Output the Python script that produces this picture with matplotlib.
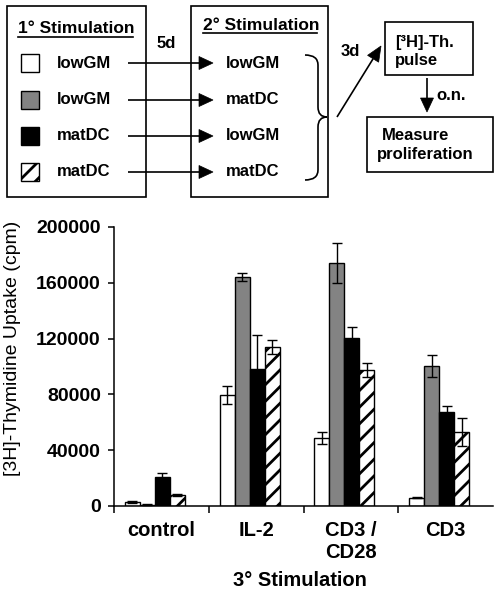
import matplotlib
matplotlib.use("Agg")
import matplotlib.pyplot as plt
import numpy as np
from matplotlib.patches import Rectangle, Polygon, PathPatch
from matplotlib.path import Path

plt.rcParams['font.family'] = ['Liberation Sans', 'DejaVu Sans']
plt.rcParams['hatch.linewidth'] = 2.0

# ---------------- data ----------------
categories = ["control", "IL-2", "CD3 /\nCD28", "CD3"]
series_names = ["lowGM→lowGM", "lowGM→matDC", "matDC→lowGM", "matDC→matDC"]
lowGM_lowGM = [2900, 79600, 48700, 6000]
lowGM_matDC = [800, 164000, 174200, 100400]
matDC_lowGM = [20800, 98200, 120400, 67400]
matDC_matDC = [7900, 114000, 97500, 53000]
err_lowGM_lowGM = [600, 6500, 4000, 500]
err_lowGM_matDC = [300, 3000, 14300, 7700]
err_matDC_lowGM = [2800, 24500, 7900, 4300]
err_matDC_matDC = [800, 5000, 5000, 10000]
yticks = [0, 40000, 80000, 120000, 160000, 200000]

primary = ["lowGM", "lowGM", "matDC", "matDC"]
secondary = ["lowGM", "matDC", "lowGM", "matDC"]

values = [lowGM_lowGM, lowGM_matDC, matDC_lowGM, matDC_matDC]
errors = [err_lowGM_lowGM, err_lowGM_matDC, err_matDC_lowGM, err_matDC_matDC]
faces = ["white", "#838383", "black", "white"]
hatches = [None, None, None, "//"]

W, H = 498, 592
fig = plt.figure(figsize=(W / 100, H / 100), dpi=100)

# ---------------- bar chart ----------------
ax = fig.add_axes([114 / W, 1 - 506 / H, (493 - 114) / W, (506 - 227) / H])
x = np.arange(len(categories))
bw = 0.158
shift = -0.069
for i in range(4):
    pos = x + shift + (i - 1.5) * bw
    ax.bar(pos, values[i], width=bw, color=faces[i], edgecolor="black",
           linewidth=1.0, hatch=hatches[i], zorder=2)
    ax.errorbar(pos, values[i], yerr=errors[i], fmt="none", ecolor="black",
                elinewidth=1.0, capsize=3.5, capthick=1.0, zorder=3)

ax.set_xlim(-0.5, 3.5)
ax.set_ylim(0, 200000)
ax.set_yticks(yticks)
ax.set_yticklabels([str(v) for v in yticks], fontsize=14, fontweight="bold")
ax.set_xticks(x)
ax.set_xticklabels(categories, fontsize=14.5, fontweight="bold", linespacing=1.15)
ax.set_xticks([-0.5, 0.5, 1.5, 2.5], minor=True)
ax.tick_params(axis="x", which="major", length=0, pad=11)
ax.tick_params(axis="x", which="minor", length=5, width=1.1, direction="out")
ax.tick_params(axis="y", which="major", length=4.5, width=1.1, direction="out", pad=5)
for s in ["top", "right"]:
    ax.spines[s].set_visible(False)
for s in ["left", "bottom"]:
    ax.spines[s].set_linewidth(1.1)

# ---------------- diagram overlay (pixel coordinates) ----------------
d = fig.add_axes([0, 0, 1, 1])
d.set_xlim(0, W)
d.set_ylim(H, 0)
d.axis("off")

lw_box = 1.2
def box(x0, y0, x1, y1):
    d.add_patch(Rectangle((x0, y0), x1 - x0, y1 - y0, fill=False,
                          edgecolor="black", linewidth=lw_box))

def arrow(x0, y0, x1, y1, hl=14, hw=6.5, lw=1.2):
    v = np.array([x1 - x0, y1 - y0], float)
    L = np.hypot(*v)
    u = v / L
    n = np.array([-u[1], u[0]])
    base = np.array([x1, y1]) - u * hl
    d.plot([x0, base[0]], [y0, base[1]], color="black", lw=lw, solid_capstyle="butt")
    tri = [[x1, y1], base + n * hw, base - n * hw]
    d.add_patch(Polygon(tri, closed=True, facecolor="black", edgecolor="black", lw=0.5))

box(7, 6, 146, 197)
box(191, 6, 328, 197)
box(385, 22, 473, 75)
box(367, 117, 493, 172)

tfs = 12
d.text(18, 33, "1° Stimulation", fontsize=12.5, fontweight="bold", va="baseline", ha="left")
d.plot([18, 133], [37, 37], color="black", lw=1.2)
d.text(203, 30, "2° Stimulation", fontsize=12.5, fontweight="bold", va="baseline", ha="left")
d.plot([203, 317], [33, 33], color="black", lw=1.2)
d.text(157, 43, "5d", fontsize=tfs, fontweight="bold", va="center", ha="left")

rows = [63, 100, 136, 172]
for i, yy in enumerate(rows):
    d.add_patch(Rectangle((21, yy - 9), 18, 18, facecolor=faces[i], edgecolor="black",
                          linewidth=1.0, hatch=hatches[i]))
    d.text(57, yy, primary[i], fontsize=tfs, fontweight="bold", va="center", ha="left")
    arrow(128, yy, 213, yy)
    d.text(226, yy, secondary[i], fontsize=tfs, fontweight="bold", va="center", ha="left")

# curly brace
xs, xm, xt = 305, 318, 327
yt, ym, yb = 55, 117, 180
verts = [
    (xs, yt), (xm, yt), (xm, yt + 10),
    (xm, ym - 10),
    (xm, ym), (xt, ym),
    (xm, ym), (xm, ym + 10),
    (xm, yb - 10),
    (xm, yb), (xs, yb),
]
codes = [Path.MOVETO, Path.CURVE3, Path.CURVE3, Path.LINETO,
         Path.CURVE3, Path.CURVE3, Path.CURVE3, Path.CURVE3,
         Path.LINETO, Path.CURVE3, Path.CURVE3]
d.add_patch(PathPatch(Path(verts, codes), fill=False, edgecolor="black", lw=1.2))

arrow(337, 117, 381, 46, hl=15, hw=6.5)
d.text(341, 52, "3d", fontsize=tfs, fontweight="bold", va="center", ha="left")

d.text(395, 42, "[³H]-Th.", fontsize=tfs, fontweight="bold", va="center", ha="left")
d.text(395, 60, "pulse", fontsize=tfs, fontweight="bold", va="center", ha="left")
arrow(427, 78, 427, 112, hl=14, hw=6.5)
d.text(436, 96, "o.n.", fontsize=tfs, fontweight="bold", va="center", ha="left")
d.text(382, 135, "Measure", fontsize=tfs, fontweight="bold", va="center", ha="left")
d.text(377, 155, "proliferation", fontsize=tfs, fontweight="bold", va="center", ha="left")

# axis titles
d.text(13, 348, "[3H]-Thymidine Uptake (cpm)", fontsize=14, rotation=90,
       va="center", ha="center")
d.text(300, 580, "3° Stimulation", fontsize=14.5, fontweight="bold",
       va="center", ha="center")

fig.savefig("out.png", dpi=100)
